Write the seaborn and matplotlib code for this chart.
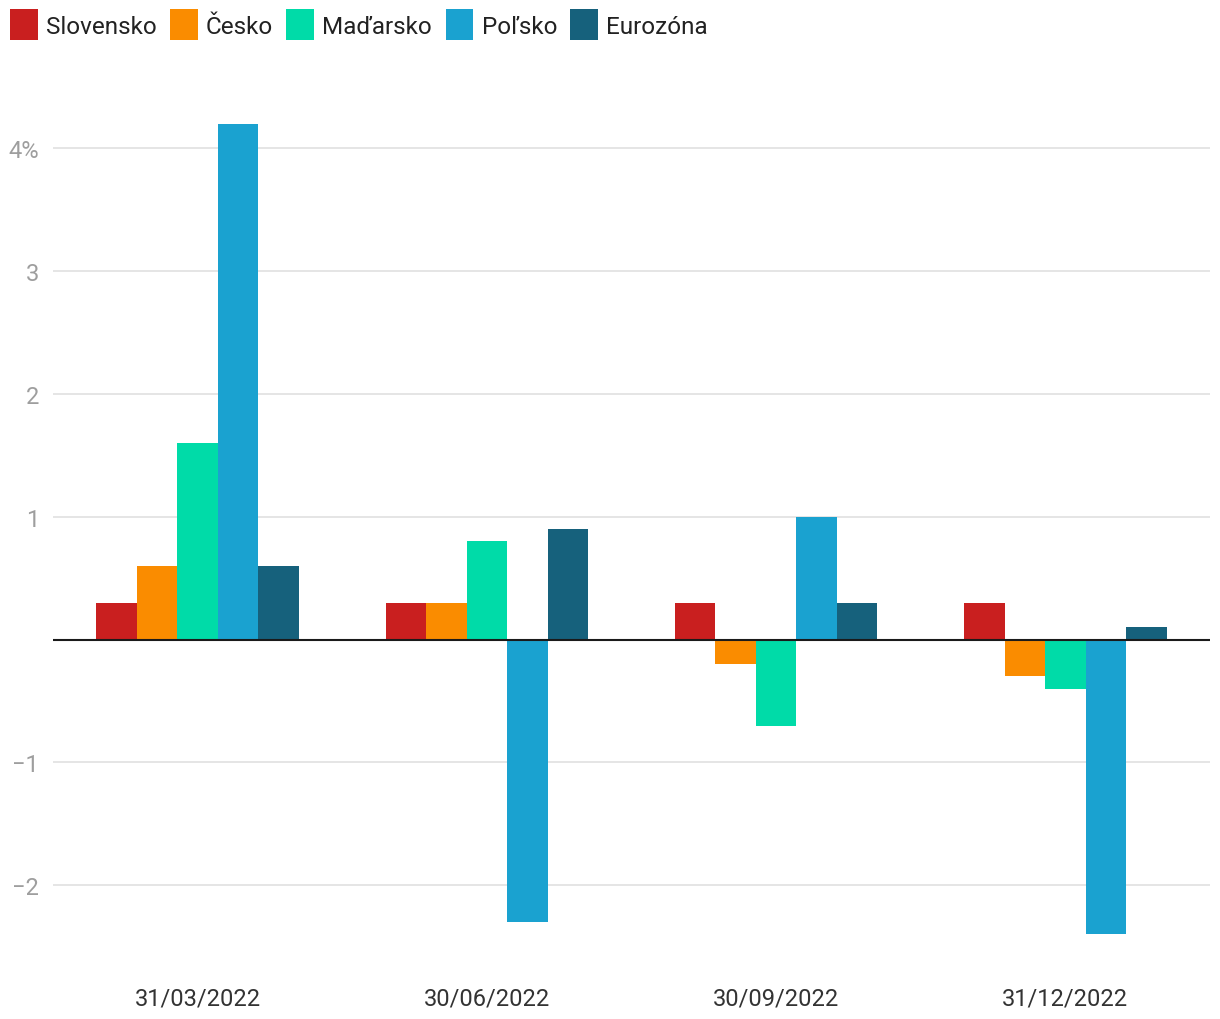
import pandas as pd
import matplotlib.pyplot as plt
import matplotlib.patches as mpatches
import seaborn as sns

dates = ["31/03/2022", "30/06/2022", "30/09/2022", "31/12/2022"]
countries = ["Slovensko", "Česko", "Maďarsko", "Poľsko", "Eurozóna"]
slovensko = [0.3, 0.3, 0.3, 0.3]
cesko = [0.6, 0.3, -0.2, -0.3]
madarsko = [1.6, 0.8, -0.7, -0.4]
polsko = [4.2, -2.3, 1.0, -2.4]
eurozona = [0.6, 0.9, 0.3, 0.1]
colors = ["#C91F1F", "#FA8C00", "#00DBA8", "#1AA2D0", "#16617C"]

series = [slovensko, cesko, madarsko, polsko, eurozona]
rows = []
for name, vals in zip(countries, series):
    for d, v in zip(dates, vals):
        rows.append({"date": d, "country": name, "value": v})
df = pd.DataFrame(rows)

sns.set_style("white")
plt.rcParams["font.family"] = ["Roboto", "DejaVu Sans"]

fig = plt.figure(figsize=(12.2, 10.2), dpi=100)
ax = fig.add_axes([0.0434, 0.0588, 0.9484, 0.8432])

sns.barplot(data=df, x="date", y="value", hue="country", order=dates,
            hue_order=countries, palette=colors, width=0.7, saturation=1,
            errorbar=None, legend=False, ax=ax, zorder=2, linewidth=0)

ax.set_xlim(-0.5, 3.5)
ax.set_ylim(-2.6, 4.4)
yt = [-2, -1, 1, 2, 3, 4]
ax.set_yticks(yt)
ax.set_yticklabels(["−2", "−1", "1", "2", "3", "4%"])
ax.tick_params(axis="y", length=0, pad=10, labelsize=17, labelcolor="#9e9e9e")
ax.tick_params(axis="x", length=0, pad=20, labelsize=17, labelcolor="#333333")
ax.grid(axis="y", color="#e0e0e0", lw=1.2, zorder=0)
ax.axhline(0, color="#1a1a1a", lw=1.5, zorder=3)
for s in ax.spines.values():
    s.set_visible(False)
ax.set_xlabel("")
ax.set_ylabel("")

handles = [mpatches.Patch(color=c, label=n, lw=0) for n, c in zip(countries, colors)]
fig.legend(handles=handles, loc="upper left", bbox_to_anchor=(0.008, 0.99),
           ncol=5, frameon=False, fontsize=17.5, handlelength=1.15,
           handleheight=1.6, handletextpad=0.33, columnspacing=0.55,
           borderaxespad=0, borderpad=0.0, labelcolor="#222222")

fig.savefig("out.png", dpi=100)
